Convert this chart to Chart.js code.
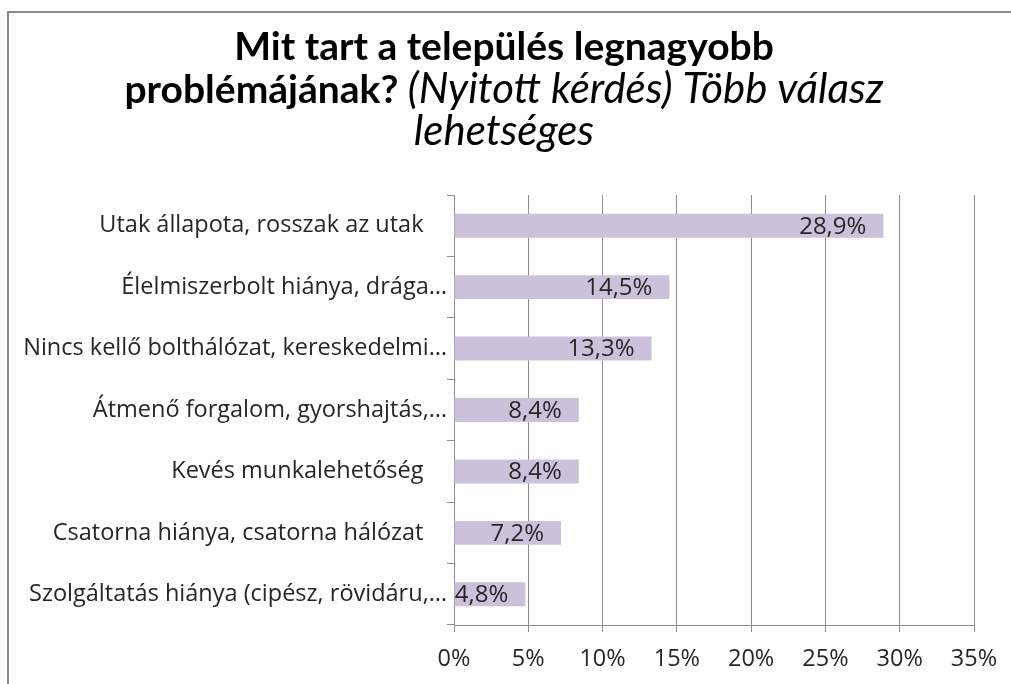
<!DOCTYPE html>
<html>
<head>
<meta charset="utf-8">
<script src="https://cdn.jsdelivr.net/npm/chart.js@4.4.1/dist/chart.umd.min.js"></script>
<style>
  html, body { margin: 0; padding: 0; background: #fff; overflow: hidden; }
  #wrap { position: relative; width: 1011px; height: 684px; }
  #frame {
    position: absolute; left: 7px; top: 11px; width: 1100px; height: 800px;
    border-left: 2px solid #8a8a8a; border-top: 2px solid #8a8a8a;
    pointer-events: none;
  }
</style>
</head>
<body>
<div id="wrap">
  <canvas id="chart" width="1011" height="684"></canvas>
  <div id="frame"></div>
</div>
<script>
const categories = [
  'Utak állapota, rosszak az utak',
  'Élelmiszerbolt hiánya, drága…',
  'Nincs kellő bolthálózat, kereskedelmi…',
  'Átmenő forgalom, gyorshajtás,…',
  'Kevés munkalehetőség',
  'Csatorna hiánya, csatorna hálózat',
  'Szolgáltatás hiánya (cipész, rövidáru,…'
];
const values = [28.9, 14.5, 13.3, 8.4, 8.4, 7.2, 4.8];
const xTicks = [0, 5, 10, 15, 20, 25, 30, 35];
const titleLines = [
  [{ text: 'Mit tart a település legnagyobb', style: 'bold' }],
  [{ text: 'problémájának? ', style: 'bold' }, { text: '(Nyitott kérdés) Több válasz', style: 'italic' }],
  [{ text: 'lehetséges', style: 'italic' }]
];

const TITLE_FONT = 'Lato, "Open Sans", sans-serif';
const FONT = '"Open Sans", Lato, sans-serif';
const TEXT = '#262626';
const GRID = '#8c8c8c';

// title with mixed bold / italic runs
const titlePlugin = {
  id: 'mixedTitle',
  afterDraw(chart) {
    const ctx = chart.ctx;
    const cx = 504;
    const baselines = [60, 102.5, 145];
    ctx.save();
    ctx.fillStyle = '#000';
    ctx.textBaseline = 'alphabetic';
    ctx.textAlign = 'left';
    titleLines.forEach((runs, i) => {
      const fonts = runs.map(r => (r.style === 'bold' ? 'bold 39px ' : 'italic 42px ') + TITLE_FONT);
      let total = 0;
      runs.forEach((r, j) => { ctx.font = fonts[j]; total += ctx.measureText(r.text).width; });
      let x = cx - total / 2;
      runs.forEach((r, j) => {
        ctx.font = fonts[j];
        ctx.fillText(r.text, x, baselines[i]);
        x += ctx.measureText(r.text).width;
      });
    });
    ctx.restore();
  }
};

// value labels at the inside end of each bar
const labelPlugin = {
  id: 'barLabels',
  afterDatasetsDraw(chart) {
    const ctx = chart.ctx;
    const meta = chart.getDatasetMeta(0);
    ctx.save();
    ctx.font = '24px ' + FONT;
    ctx.fillStyle = TEXT;
    ctx.textAlign = 'right';
    ctx.textBaseline = 'middle';
    meta.data.forEach((bar, i) => {
      const txt = values[i].toFixed(1).replace('.', ',') + '%';
      ctx.fillText(txt, bar.x - 17, bar.y + 1);
    });
    ctx.restore();
  }
};

new Chart(document.getElementById('chart'), {
  type: 'bar',
  data: {
    labels: categories,
    datasets: [{
      data: values,
      backgroundColor: '#ccc1da',
      borderWidth: 0,
      categoryPercentage: 1,
      barPercentage: 0.39
    }]
  },
  options: {
    indexAxis: 'y',
    responsive: false,
    animation: false,
    events: [],
    layout: { padding: { top: 195, right: 37, left: 0, bottom: 0 } },
    plugins: { legend: { display: false }, title: { display: false }, tooltip: { enabled: false } },
    scales: {
      x: {
        min: 0,
        max: 35,
        afterBuildTicks(scale) { scale.ticks = xTicks.map(v => ({ value: v })); },
        afterFit(scale) { scale.height = 59; },
        grid: { color: GRID, lineWidth: 1, tickLength: 7, drawTicks: true },
        border: { color: GRID, width: 1 },
        ticks: {
          color: TEXT,
          font: { family: FONT, size: 23.5 },
          padding: 13,
          maxRotation: 0,
          callback: v => v + '%'
        }
      },
      y: {
        afterFit(scale) { scale.width = 454; },
        grid: { drawOnChartArea: false, drawTicks: true, tickLength: 7, color: GRID, offset: true },
        border: { color: GRID, width: 1 },
        ticks: {
          color: TEXT,
          font: { family: FONT, size: 23.5 },
          padding: 0,
          callback(v, i) {
            const s = categories[i];
            return s.endsWith('…') ? s : s + '\u2003';
          }
        }
      }
    }
  },
  plugins: [titlePlugin, labelPlugin]
});
</script>
</body>
</html>
